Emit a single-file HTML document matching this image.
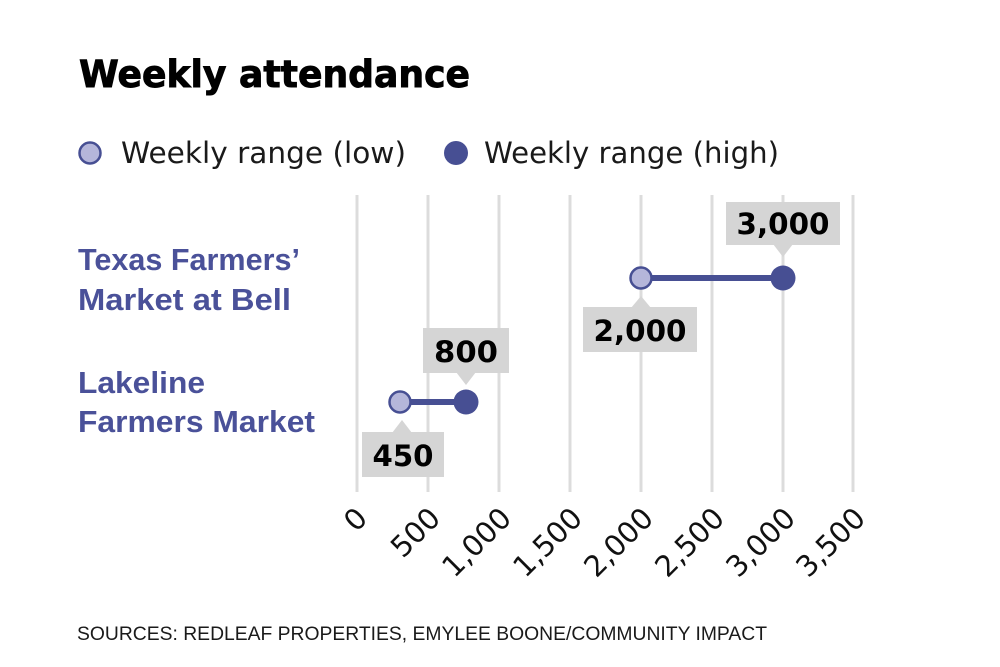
<!DOCTYPE html>
<html>
<head>
<meta charset="utf-8">
<style>
  html, body { margin:0; padding:0; background:#ffffff; }
  svg { display:block; }
</style>
</head>
<body>
<svg width="1000" height="667" viewBox="0 0 1000 667" xmlns="http://www.w3.org/2000/svg">
  <rect x="0" y="0" width="1000" height="667" fill="#ffffff"/>

  <!-- Title -->
  <text x="79" y="87" font-family="'DejaVu Sans', 'Liberation Sans', sans-serif" font-weight="bold" font-size="37" fill="#000" stroke="#000" stroke-width="0.9" textLength="391" lengthAdjust="spacingAndGlyphs">Weekly attendance</text>

  <!-- Legend -->
  <circle cx="90" cy="153" r="10.5" fill="#b5b6da" stroke="#474f93" stroke-width="2.5"/>
  <text x="121" y="163" font-family="'DejaVu Sans', 'Liberation Sans', sans-serif" font-size="29" fill="#1a1a1a" textLength="285" lengthAdjust="spacingAndGlyphs">Weekly range (low)</text>
  <circle cx="456" cy="153" r="12" fill="#474f93"/>
  <text x="484" y="163" font-family="'DejaVu Sans', 'Liberation Sans', sans-serif" font-size="29" fill="#1a1a1a" textLength="295" lengthAdjust="spacingAndGlyphs">Weekly range (high)</text>

  <!-- Category labels -->
  <g font-family="'Liberation Sans', sans-serif" font-weight="bold" font-size="31" fill="#4a5199">
    <text x="78" y="270" textLength="222" lengthAdjust="spacingAndGlyphs">Texas Farmers’</text>
    <text x="78" y="310" textLength="213" lengthAdjust="spacingAndGlyphs">Market at Bell</text>
    <text x="78" y="393" textLength="127" lengthAdjust="spacingAndGlyphs">Lakeline</text>
    <text x="78" y="432" textLength="237" lengthAdjust="spacingAndGlyphs">Farmers Market</text>
  </g>

  <!-- Grid lines -->
  <g stroke="#dcdcdc" stroke-width="3">
    <line x1="357" y1="195" x2="357" y2="492"/>
    <line x1="428" y1="195" x2="428" y2="492"/>
    <line x1="499" y1="195" x2="499" y2="492"/>
    <line x1="570" y1="195" x2="570" y2="492"/>
    <line x1="641" y1="195" x2="641" y2="492"/>
    <line x1="712" y1="195" x2="712" y2="492"/>
    <line x1="783" y1="195" x2="783" y2="492"/>
    <line x1="853" y1="195" x2="853" y2="492"/>
  </g>

  <!-- Tick labels -->
  <g font-family="'DejaVu Sans', 'Liberation Sans', sans-serif" font-size="29" fill="#111" text-anchor="end">
    <text transform="translate(369,520) rotate(-45)">0</text>
    <text transform="translate(442,520) rotate(-45)">500</text>
    <text transform="translate(513,520) rotate(-45)">1,000</text>
    <text transform="translate(584,520) rotate(-45)">1,500</text>
    <text transform="translate(655,520) rotate(-45)">2,000</text>
    <text transform="translate(726,520) rotate(-45)">2,500</text>
    <text transform="translate(797,520) rotate(-45)">3,000</text>
    <text transform="translate(867,520) rotate(-45)">3,500</text>
  </g>

  <!-- Texas row -->
  <line x1="641" y1="278" x2="783" y2="278" stroke="#474f93" stroke-width="6"/>
  <circle cx="641" cy="278" r="10.5" fill="#b5b6da" stroke="#474f93" stroke-width="2.5"/>
  <circle cx="783" cy="278" r="12.5" fill="#474f93"/>

  <!-- Lakeline row -->
  <line x1="400" y1="402" x2="466" y2="402" stroke="#474f93" stroke-width="6"/>
  <circle cx="400" cy="402" r="10.5" fill="#b5b6da" stroke="#474f93" stroke-width="2.5"/>
  <circle cx="466" cy="402" r="12.5" fill="#474f93"/>

  <!-- Value labels -->
  <g fill="#d5d5d5">
    <rect x="726" y="202" width="114" height="43"/>
    <polygon points="773,244 793,244 783,257"/>
    <rect x="583" y="307" width="114" height="45"/>
    <polygon points="631,308 651,308 641,296"/>
    <rect x="423" y="328" width="86" height="45"/>
    <polygon points="456,372 476,372 466,385"/>
    <rect x="362" y="432" width="82" height="45"/>
    <polygon points="392,433 412,433 402,420"/>
  </g>
  <g font-family="'DejaVu Sans', 'Liberation Sans', sans-serif" font-weight="bold" font-size="29" fill="#000" text-anchor="middle">
    <text x="783" y="234" textLength="93" lengthAdjust="spacingAndGlyphs">3,000</text>
    <text x="640" y="341" textLength="93" lengthAdjust="spacingAndGlyphs">2,000</text>
    <text x="466" y="362" textLength="64" lengthAdjust="spacingAndGlyphs">800</text>
    <text x="403" y="466" textLength="61" lengthAdjust="spacingAndGlyphs">450</text>
  </g>

  <!-- Footer -->
  <text x="77" y="640" font-family="'Liberation Sans', 'DejaVu Sans', sans-serif" font-size="19" fill="#1a1a1a" textLength="690" lengthAdjust="spacingAndGlyphs">SOURCES: REDLEAF PROPERTIES, EMYLEE BOONE/COMMUNITY IMPACT</text>
</svg>
</body>
</html>
